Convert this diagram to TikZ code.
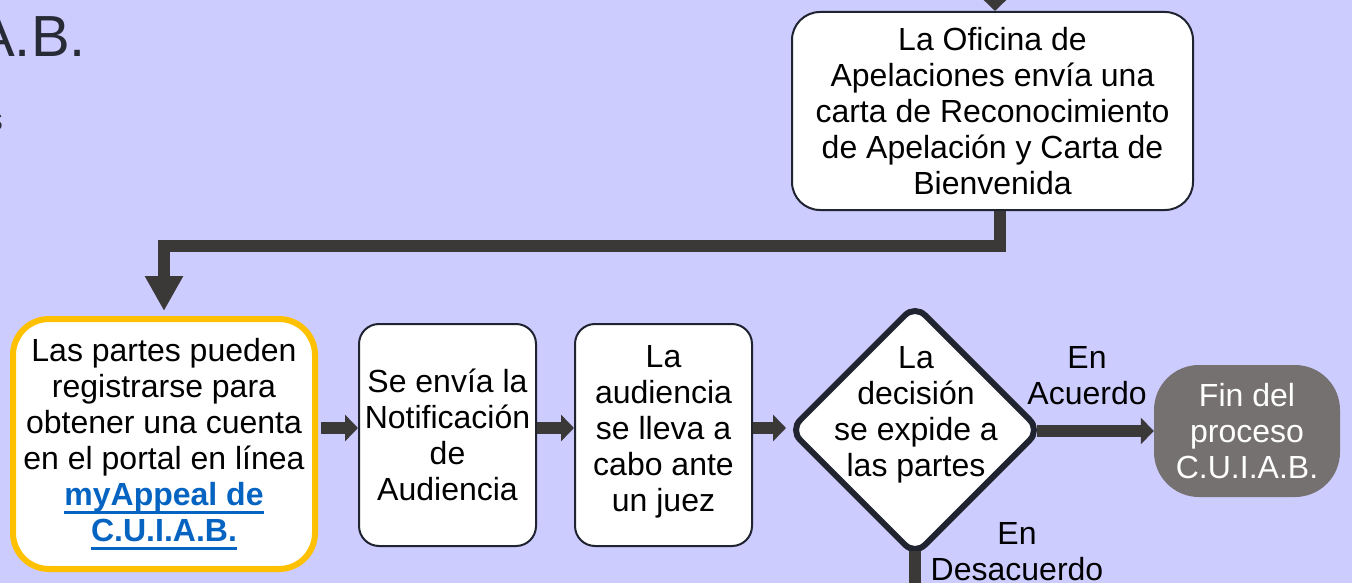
\documentclass[tikz,border=0pt]{standalone}
\usepackage{fontspec}
\setmainfont{Liberation Sans}
\usetikzlibrary{shapes.geometric,arrows.meta,positioning}
\definecolor{bgblue}{HTML}{CCCCFF}
\definecolor{flowgray}{HTML}{3B3838}
\definecolor{boxline}{HTML}{1F2430}
\definecolor{gold}{HTML}{FFC000}
\definecolor{endgray}{HTML}{767171}
\definecolor{linkblue}{HTML}{0563C1}
\definecolor{titlegray}{HTML}{262B35}
\newcommand{\linkul}[1]{\setbox0=\hbox{#1}\rlap{\rule[-8pt]{\wd0}{3pt}}\box0}

\begin{document}
\begin{tikzpicture}[x=1pt,y=-1pt,
	txt/.style={font=\fontsize{32}{36}\selectfont, align=center, inner sep=0pt},
	stepbox/.style={txt, draw=boxline, line width=2pt, fill=white, rounded corners=20pt},
	flow/.style={draw=flowgray, line width=12pt},
	tip/.style={-{Triangle[length=13pt,width=26pt]}}]
			\useasboundingbox (0,0) rectangle (1352,583);
			\fill[bgblue] (0,0) rectangle (1352,583);
			% cut off heading at the left edge
			\node[txt, font=\fontsize{58}{64}\selectfont, text=titlegray, anchor=base east] (ttl) at (86,57) {A.B.};
			\node[txt, text=titlegray, anchor=base east] (cut) at (3,131) {s};
			
			\node[stepbox, minimum width=401pt, minimum height=198pt, rounded corners=28pt] (ofi) at (992.5,111) {La Oficina de\\Apelaciones envía una\\carta de Reconocimiento\\de Apelación y Carta de\\Bienvenida};
			\node[stepbox, draw=gold, line width=6pt, rounded corners=36pt, minimum width=302pt, minimum height=250pt] (reg) at (164,444) {Las partes pueden\\registrarse para\\obtener una cuenta\\en el portal en línea\\{\bfseries\color{linkblue}\linkul{myAppeal de}}\\{\bfseries\color{linkblue}\linkul{C.U.I.A.B.}}};
			\node[stepbox, minimum width=177pt, minimum height=222pt] (notif) at (447.5,435) {Se envía la\\Notificación\\de\\Audiencia};
			\node[stepbox, minimum width=177pt, minimum height=222pt, text depth=14pt] (aud) at (663.5,435) {La\\audiencia\\se lleva a\\cabo ante\\un juez};
			\node[shape=diamond, draw=boxline, fill=white, line width=6pt, minimum width=252pt, minimum height=252pt, inner sep=0pt, rounded corners=14pt] (dec) at (915,430) {};
			\node[txt] (dectxt) at (916,415) {La\\decisión\\se expide a\\las partes};
			\node[txt, fill=endgray, text=white, minimum width=186pt, minimum height=132pt, rounded corners=45pt] (fin) at (1247,431) {Fin del\\proceso\\C.U.I.A.B.};
			\node[txt] (agree) at (1087,376) {En\\Acuerdo};
			\node[txt] (disagree) at (1017,552) {En\\Desacuerdo};
			
			% connectors
			\coordinate (intop) at (995,-30);
			\draw[flow,tip] (intop) -- (intop |- ofi.north);
			\draw[flow,-{Triangle[length=35pt,width=36pt]}] ([xshift=7.5pt]ofi.south) -- ++(0,35) -| ([yshift=5pt]reg.north);
			\draw[flow,tip,shorten <=3pt] ([yshift=16pt]reg.east) -- ([yshift=16pt]reg.east -| notif.west);
			\draw[flow,tip] ([yshift=7pt]notif.east) -- ([yshift=7pt]aud.west);
			\draw[flow,tip] ([yshift=7pt]aud.east) -- ([yshift=7pt]aud.east -| dec.west);
			\draw[flow,tip,shorten <=-7pt] ([yshift=-1pt]dec.east) -- ([yshift=-1pt]dec.east -| fin.west);
			\draw[flow] ([yshift=8pt]dec.south) -- ++(0,60);
\end{tikzpicture}
\end{document}
